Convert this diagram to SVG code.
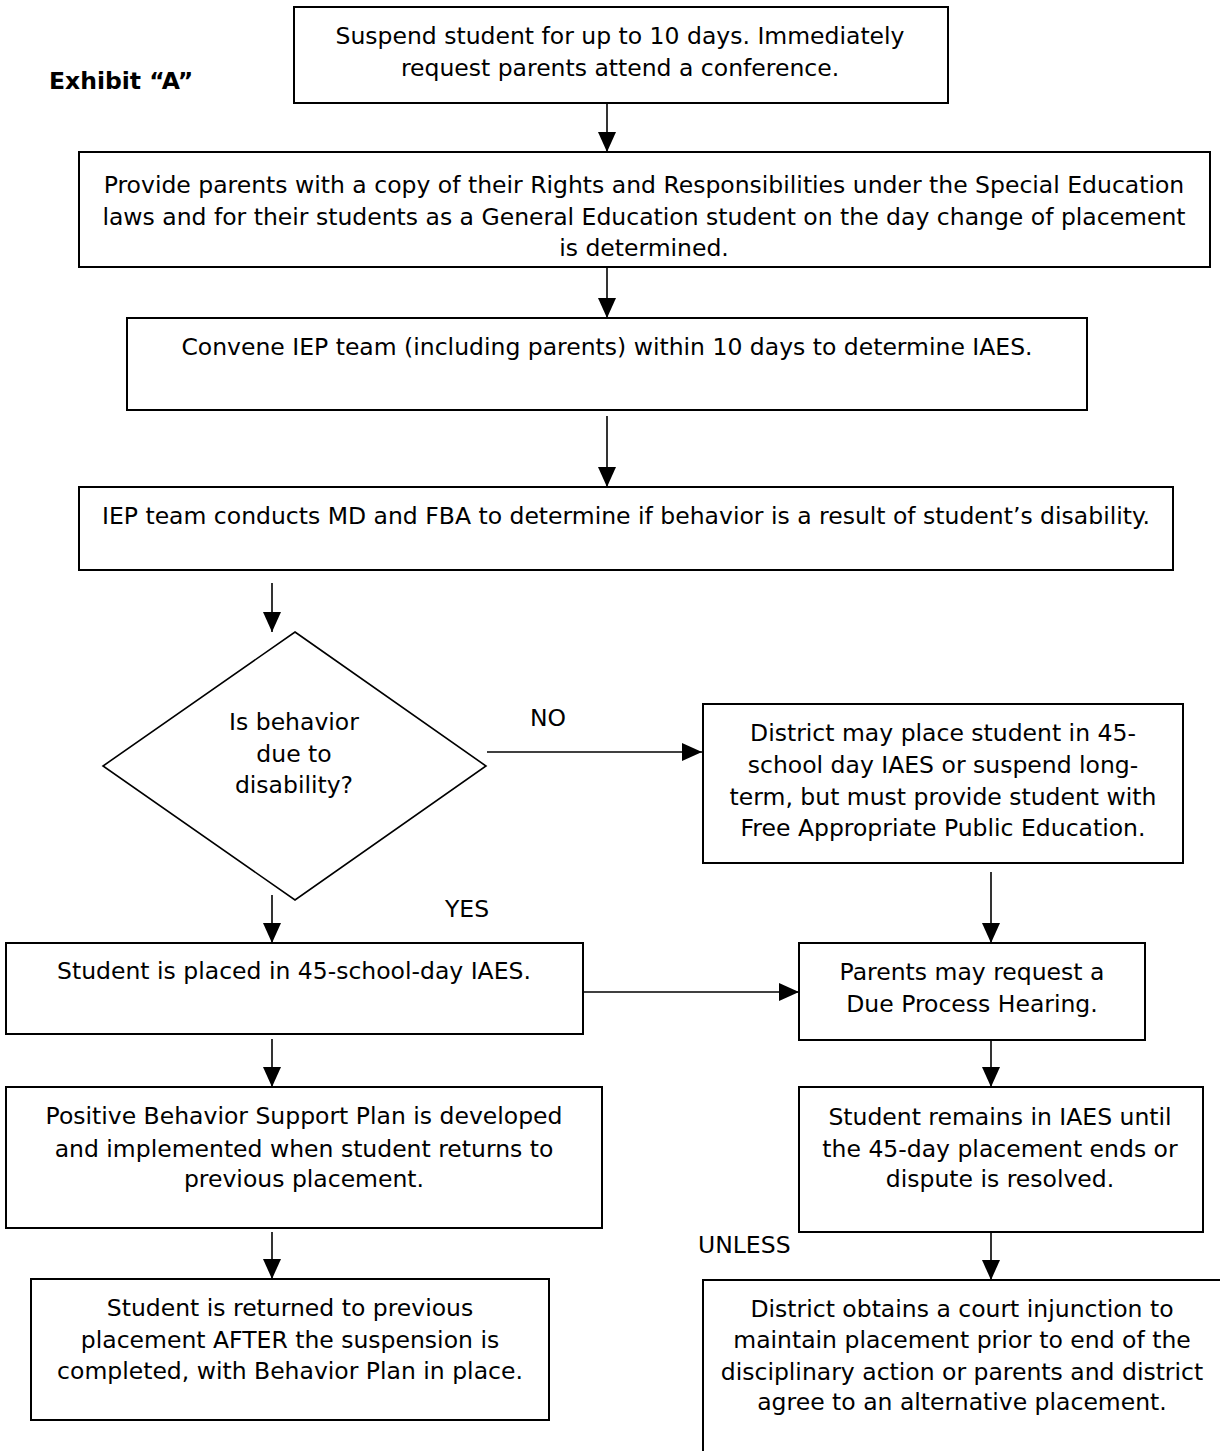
<svg xmlns="http://www.w3.org/2000/svg" width="1220" height="1451" viewBox="0 0 1220 1451">
<defs>
<style>
.box{fill:#fff;stroke:#000;stroke-width:2}
.dia{fill:#fff;stroke:#000;stroke-width:1.6}
.t{font-family:"DejaVu Sans","Liberation Sans",sans-serif;font-size:23.5px;fill:#000;text-anchor:middle}
.l{font-family:"DejaVu Sans","Liberation Sans",sans-serif;font-size:23.5px;fill:#000}
.b{font-weight:bold}
.c{fill:none;stroke:#000;stroke-width:1.6;marker-end:url(#ah)}
</style>
<marker id="ah" markerUnits="userSpaceOnUse" markerWidth="20" markerHeight="18" refX="20" refY="9" orient="auto">
<path d="M0,0 L20,9 L0,18 Z" fill="#000"/>
</marker>
</defs>
<rect width="1220" height="1451" fill="#fff"/>
<text class="l b" x="49" y="89">Exhibit “A”</text>
<g id="connectors">
<line class="c" x1="607" y1="103" x2="607" y2="152"/>
<line class="c" x1="607" y1="267" x2="607" y2="318"/>
<line class="c" x1="607" y1="416" x2="607" y2="487"/>
<line class="c" x1="272" y1="583" x2="272" y2="632"/>
<line class="c" x1="487" y1="752" x2="702" y2="752"/>
<line class="c" x1="272" y1="895" x2="272" y2="943"/>
<line class="c" x1="583" y1="992" x2="799" y2="992"/>
<line class="c" x1="991" y1="872" x2="991" y2="943"/>
<line class="c" x1="991" y1="1040" x2="991" y2="1087"/>
<line class="c" x1="272" y1="1039" x2="272" y2="1087"/>
<line class="c" x1="272" y1="1232" x2="272" y2="1279"/>
<line class="c" x1="991" y1="1232" x2="991" y2="1280"/>
<text class="l" x="530" y="726">NO</text>
<text class="l" x="445" y="917">YES</text>
<text class="l" x="698" y="1253">UNLESS</text>
</g>
<g id="n1">
<rect class="box" x="294" y="7" width="654" height="96"/>
<text class="t" x="620" y="44">Suspend student for up to 10 days. Immediately</text>
<text class="t" x="620" y="76">request parents attend a conference.</text>
</g>
<g id="n2">
<rect class="box" x="79" y="152" width="1131" height="115"/>
<text class="t" x="644" y="193">Provide parents with a copy of their Rights and Responsibilities under the Special Education</text>
<text class="t" x="644" y="225">laws and for their students as a General Education student on the day change of placement</text>
<text class="t" x="644" y="256">is determined.</text>
</g>
<g id="n3">
<rect class="box" x="127" y="318" width="960" height="92"/>
<text class="t" x="607" y="355">Convene IEP team (including parents) within 10 days to determine IAES.</text>
</g>
<g id="n4">
<rect class="box" x="79" y="487" width="1094" height="83"/>
<text class="t" x="626" y="524">IEP team conducts MD and FBA to determine if behavior is a result of student’s disability.</text>
</g>
<g id="n5">
<polygon class="dia" points="295,632 486,766 295,900 103,766"/>
<text class="t" x="294" y="730">Is behavior</text>
<text class="t" x="294" y="762">due to</text>
<text class="t" x="294" y="793">disability?</text>
</g>
<g id="n6">
<rect class="box" x="703" y="704" width="480" height="159"/>
<text class="t" x="943" y="741">District may place student in 45-</text>
<text class="t" x="943" y="773">school day IAES or suspend long-</text>
<text class="t" x="943" y="805">term, but must provide student with</text>
<text class="t" x="943" y="836">Free Appropriate Public Education.</text>
</g>
<g id="n7">
<rect class="box" x="6" y="943" width="577" height="91"/>
<text class="t" x="294" y="979">Student is placed in 45-school-day IAES.</text>
</g>
<g id="n8">
<rect class="box" x="799" y="943" width="346" height="97"/>
<text class="t" x="972" y="980">Parents may request a</text>
<text class="t" x="972" y="1012">Due Process Hearing.</text>
</g>
<g id="n9">
<rect class="box" x="6" y="1087" width="596" height="141"/>
<text class="t" x="304" y="1124">Positive Behavior Support Plan is developed</text>
<text class="t" x="304" y="1157">and implemented when student returns to</text>
<text class="t" x="304" y="1187">previous placement.</text>
</g>
<g id="n10">
<rect class="box" x="799" y="1087" width="404" height="145"/>
<text class="t" x="1000" y="1125">Student remains in IAES until</text>
<text class="t" x="1000" y="1157">the 45-day placement ends or</text>
<text class="t" x="1000" y="1187">dispute is resolved.</text>
</g>
<g id="n11">
<rect class="box" x="31" y="1279" width="518" height="141"/>
<text class="t" x="290" y="1316">Student is returned to previous</text>
<text class="t" x="290" y="1348">placement AFTER the suspension is</text>
<text class="t" x="290" y="1379">completed, with Behavior Plan in place.</text>
</g>
<g id="n12">
<rect class="box" x="703" y="1280" width="520" height="190"/>
<text class="t" x="962" y="1317">District obtains a court injunction to</text>
<text class="t" x="962" y="1348">maintain placement prior to end of the</text>
<text class="t" x="962" y="1380">disciplinary action or parents and district</text>
<text class="t" x="962" y="1410">agree to an alternative placement.</text>
</g>
</svg>
